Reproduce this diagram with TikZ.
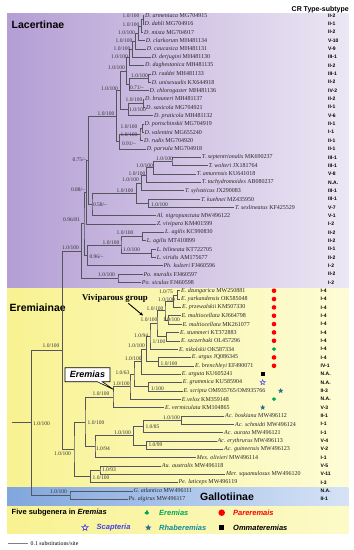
\documentclass[tikz,border=0pt]{standalone}
\usepackage{fontspec}
\setmainfont{Liberation Serif}
\setsansfont{Liberation Sans}
\usetikzlibrary{calc,shapes.geometric,shapes.callouts,arrows.meta}

\definecolor{lacL}{RGB}{180,158,212}
\definecolor{lacR}{RGB}{236,231,244}
\definecolor{ereL}{RGB}{248,242,145}
\definecolor{ereR}{RGB}{253,252,214}
\definecolor{galL}{RGB}{128,166,222}
\definecolor{galR}{RGB}{214,227,246}
\definecolor{brc}{RGB}{85,85,95}
\definecolor{esgreen}{RGB}{0,168,80}
\definecolor{scap}{RGB}{64,64,235}
\definecolor{rhabt}{RGB}{20,140,150}
\definecolor{rhabs}{RGB}{38,108,150}

\tikzset{
  branch/.style={draw=brc,line width=0.5pt},
  taxon/.style={anchor=west,inner sep=0.8pt,font=\fontsize{6}{7}\selectfont,text=black!85},
  sup/.style={inner sep=0pt,font=\fontsize{5.5}{6}\selectfont,text=black!80},
  crtype/.style={anchor=west,inner sep=0pt,font=\sffamily\bfseries\fontsize{5}{6}\selectfont},
  pdot/.style={circle,fill=red,minimum size=4.6pt,inner sep=0pt},
  osq/.style={rectangle,fill=black,minimum size=4pt,inner sep=0pt},
  sstar/.style={star,star points=5,star point ratio=2.3,minimum size=5.5pt,inner sep=0pt},
  plusmark/.pic={\draw[esgreen,line width=2pt,line cap=round] (-1.1,0)--(1.1,0) (0,-1.1)--(0,1.1);
    \fill[esgreen] (0,0) circle (1.3);},
  title/.style={anchor=west,inner sep=0pt,font=\sffamily\bfseries\fontsize{10.5}{12}\selectfont},
  leg/.style={anchor=west,inner sep=0pt,font=\sffamily\bfseries\itshape\fontsize{7.5}{9}\selectfont}
}

% nodo interno: nombre, x, hijo 1, hijo 2
\newcommand\clade[4]{%
  \path let \p1=(#3), \p2=(#4) in coordinate (#1) at ({#2pt},{0.5*\y1+0.5*\y2});
  \draw[branch] (#3) -| (#1) |- (#4);}

\begin{document}
\begin{tikzpicture}[x=1pt,y=-1pt]
\useasboundingbox (0,0) rectangle (354,550);

% Fondos
\shade[left color=lacL,right color=lacR] (7,13.3) rectangle (348.3,288);
\shade[left color=ereL,right color=ereR] (7,288) rectangle (348.3,487.3);
\shade[left color=galL,right color=galR] (7,487.3) rectangle (348.3,506);
\shade[left color=ereL,right color=ereR!80!ereL] (7,506) rectangle (348.3,533);

\node[title] (tLac) at (11.5,25) {Lacertinae};
\node[title] (tEre) at (9.5,307.3) {Eremiainae};
\node[title] (tGal) at (200,496.7) {Gallotiinae};
\node[anchor=west,inner sep=0pt,font=\sffamily\bfseries\fontsize{7}{8}\selectfont] (tCR) at (291.5,9.5) {CR Type-subtype};

% Taxones
\foreach \n/\x/\spc/\acc/\ty [count=\i from 0] in {
  arm/144.2/D. armeniaca/MG704915/II-2,
  dah/143.5/D. dahli/MG704916/II-1,
  mix/143.2/D. mixta/MG704917/II-2,
  cla/144.9/D. clarkorum/MH481134/V-10,
  cau/145.9/D. caucasica/MH481131/V-9,
  der/150.9/D. derjugini/MH481130/III-1,
  dag/144.2/D. daghestanica/MH481135/II-2,
  rad/150.9/D. raddei/MH481133/III-1,
  uni/150.9/D. unisexualis/KX644918/II-2,
  chl/148.5/D. chlorogaster/MH481136/IV-2,
  bra/144.2/D. brauneri/MH481137/II-2,
  sax/145.2/D. saxicola/MG704921/II-1,
  pra/153.2/D. praticola/MH481132/V-6,
  por/143.5/D. portschinskii/MG704919/II-1,
  val/143.5/D. valentini/MG655240/I-1,
  rud/143.2/D. rudis/MG704920/II-1,
  par/145.9/D. parvula/MG704918/II-1,
  sep/200.9/T. septentrionalis/MK690237/III-1,
  wol/207.5/T. wolteri/JX181764/III-1,
  amu/195.9/T. amurensis/KU641018/V-8,
  tac/200.9/T. tachydromoides/AB080237/N.A.,
  syl/184.2/T. sylvaticus/JX290083/III-1,
  kue/200.2/T. kuehnei/MZ435950/III-1,
  sex/234.2/T. sexlineatus/KF425529/V-7,
  nig/155.9/Al. nigropunctata/MW496122/V-1,
  viv/155.9/Z. vivipara/KM401599/I-2,
  agk/164.2/L. agilis/KC990830/II-2,
  agm/145.9/L. agilis/MT410899/II-2,
  bil/155.9/L. bilineata/KT722705/II-1,
  vir/155.9/L. viridis/AM175677/II-2,
  kul/162.5/Ph. kulzeri/FJ460596/I-2,
  mur/142.5/Po. muralis/FJ460597/II-2,
  sic/140.9/Po. siculus/FJ460598/I-2}{
  \node[taxon] (\n) at (\x,15.5+8.34*\i) {\textit{\spc} \acc};
  \node[crtype] (t\n) at (328,15.5+8.34*\i) {\ty};
}
\foreach \n/\x/\spc/\acc/\ty [count=\i from 33] in {
  dzu/180.2/E. dzungarica/MW250881/I-4,
  yar/180.2/E. yarkandensis/OK585048/I-4,
  prz/181.2/E. przewalskii/KM507330/I-4,
  mkj/180.5/E. multiocellata/KJ664798/I-4,
  mmk/181.5/E. multiocellata/MK261077/I-4,
  stu/179.2/E. stummeri/KT372883/I-4,
  szc/180/E. szczerbaki/OL457296/I-4,
  nik/178/E. nikolskii/OK587334/I-4,
  arg/190.9/E. argus/JQ086345/I-4,
  bre/194.2/E. brenchleyi/EF490071/IV-1,
  agt/180.9/E. arguta/KU605241/N.A.,
  gra/181.9/E. grammica/KU585904/N.A.,
  scr/182.5/E. scripta/{OM935765/OM935766}/II-3,
  vel/180.9/E.velox/KM359148/N.A.,
  ver/164.2/E. vermiculata/KM104865/V-3,
  bos/224.2/Ac. boskiana/MW496112/II-1,
  sch/234.2/Ac. schmidti/MW496124/I-1,
  aur/223.2/Ac. aurata/MW496121/I-1,
  ery/216.5/Ac. erythrurus/MW496113/V-4,
  gui/223.2/Ac. guineensis/MW496123/V-2,
  oli/195.9/Mes. olivieri/MW496114/I-1,
  aus/160.9/Au. australis/MW496118/V-5,
  squ/225.2/Mer. squamulosus/MW496120/V-11,
  lat/177.5/Pe. laticeps/MW496119/I-3,
  atl/132.5/G. atlantica/MW496111/N.A.,
  psa/127.5/Ps. algirus/MW496117/II-1}{
  \node[taxon] (\n) at (\x,15.5+8.34*\i) {\textit{\spc} \acc};
  \node[crtype] (t\n) at (320.5,15.5+8.34*\i) {\ty};
}

% Ramas: Lacertinae
\clade{n1}{143.3}{arm}{dah}
\clade{n2}{141.7}{n1}{mix}
\clade{n3}{138.5}{n2}{cla}
\clade{n4}{135.5}{n3}{cau}
\clade{n5}{132.5}{n4}{der}
\clade{n6}{129.5}{n5}{dag}
\clade{nRU}{148.3}{rad}{uni}
\clade{nRUC}{129.3}{nRU}{chl}
\clade{nDa}{126.7}{n6}{nRUC}
\clade{nBS}{143.3}{bra}{sax}
\clade{nBSP}{128.3}{nBS}{pra}
\clade{nDb}{120.5}{nDa}{nBSP}
\clade{nPV}{142.5}{por}{val}
\clade{nPVR}{140}{nPV}{rud}
\clade{nDc}{119.3}{nPVR}{par}
\clade{nD}{116.5}{nDb}{nDc}
\clade{nSW}{172}{sep}{wol}
\clade{nSWA}{153.3}{nSW}{amu}
\clade{nSWAT}{146.7}{nSWA}{tac}
\clade{nSWATS}{141.7}{nSWAT}{syl}
\clade{nKS}{148.3}{kue}{sex}
\clade{nT}{136.7}{nSWATS}{nKS}
\clade{nTA}{92}{nT}{nig}
\clade{nDT}{88.5}{nD}{nTA}
\clade{nDTZ}{86.5}{nDT}{viv}
\clade{nAG}{142.7}{agk}{agm}
\clade{nBV}{151.7}{bil}{vir}
\clade{nL}{121}{nAG}{nBV}
\clade{nLP}{87.5}{nL}{kul}
\clade{nLZ}{84}{nDTZ}{nLP}
\clade{nPo}{118}{mur}{sic}
\clade{nLac}{81.7}{nLZ}{nPo}

% Ramas: Eremiainae y Gallotiinae
\clade{nDY}{177.3}{dzu}{yar}
\clade{nDYP}{173.3}{nDY}{prz}
\clade{nMM}{168}{mkj}{mmk}
\clade{nDM}{165}{nDYP}{nMM}
\clade{nSS}{166.7}{stu}{szc}
\clade{nViv}{157}{nDM}{nSS}
\clade{nVN}{150}{nViv}{nik}
\clade{nAB}{158.3}{arg}{bre}
\clade{nX}{146.5}{nVN}{nAB}
\clade{nC}{141.7}{nX}{agt}
\clade{nGS}{148.3}{gra}{scr}
\clade{nB}{134}{nC}{nGS}
\clade{nA}{130}{nB}{vel}
\clade{nErm}{113}{nA}{ver}
\clade{nBoS}{181.7}{bos}{sch}
\clade{nAc1}{143.3}{nBoS}{aur}
\clade{nEG}{146.7}{ery}{gui}
\clade{nAc}{133.3}{nAc1}{nEG}
\clade{nAcM}{95}{nAc}{oli}
\clade{nU}{85}{nErm}{nAcM}
\clade{nAM}{100}{aus}{squ}
\clade{nLo}{90.7}{nAM}{lat}
\clade{nEre}{74}{nU}{nLo}
\clade{nLE}{62.7}{nLac}{nEre}
\clade{nGal}{70}{atl}{psa}
\clade{nRoot}{31.7}{nLE}{nGal}
\path (nRoot) ++(-19.7,0) coordinate (r0);
\draw[branch] (r0) -- (nRoot);

% Soportes
\foreach \x/\y [count=\k] in {131/15.3, 131/24.3, 126.5/32.7, 124/40.7, 122/49,
  119.5/56.7, 116.5/67.7, 139.5/76, 109.5/89, 134/100, 137.5/110, 106/113.3,
  129/126.7, 129/134.3, 164.5/158.7, 144.5/166, 137/173.3, 130.5/180, 125/191,
  159.5/205, 125/232.7, 111/242.7, 131.5/249.3, 106.5/275, 70.5/248, 51/346,
  41.5/423.3, 58.5/491.7, 62.5/453.3, 166.5/300, 155/308.3, 171.5/319.5,
  149/320, 136.5/345.7, 133.3/359, 169/363.3, 121.3/383.3, 101/393.5,
  171.5/417.7, 96/422.3, 122.5/432.3, 101/477.3}
  \node[sup] (bs\k) at (\x,\y) {1.0/100};
\node[sup] (sRUC) at (137,87.3) {0.71/--};
\node[sup] (sDc) at (129,143.8) {0.91/--};
\node[sup] (sTA) at (100,205) {0.58/--};
\node[sup] (sDT) at (79.5,159.3) {0.75/--};
\node[sup] (sDTZ) at (78,190) {0.88/--};
\node[sup] (sLZ) at (71.5,220) {0.96/81};
\node[sup] (sLP) at (96.5,256.8) {0.96/--};
\node[sup] (sDY) at (166,291.7) {1.0/75};
\node[sup] (sVN) at (141.2,335.5) {1.0/94};
\node[sup] (sSS) at (159,341.2) {1/100};
\node[sup] (sB) at (122.5,372.5) {1.0/63};
\node[sup] (sGS) at (157.5,388.3) {1/100};
\node[sup] (sAc1) at (152.5,426.7) {1.0/85};
\node[sup] (sEG) at (155.5,445) {1.0/99};
\node[sup] (sAcM) at (103,449) {1.0/94};
\node[sup] (sAM) at (109,470) {1.0/93};

% Grupos
\node[font=\bfseries\fontsize{8.8}{10}\selectfont,inner sep=0pt] (vgT) at (115,298.3) {Viviparous group};
\coordinate (vgTail) at (128.3,303.3);
\coordinate (vgHead) at (143,315.5);
\draw[-{Stealth[length=3.5pt,width=3.2pt]},line width=0.9pt] (vgTail) -- (vgHead);
\node[rectangle callout,draw=black,line width=0.6pt,fill=white,minimum width=45pt,
  minimum height=14pt,inner sep=0pt,callout absolute pointer={(113.5,389.5)},
  callout pointer width=5pt,font=\sffamily\bfseries\itshape\fontsize{9}{10}\selectfont]
  (erCall) at (87.5,374.7) {Eremias};

% Subgeneros
\coordinate (sx) at (274,0);
\foreach \n in {dzu,yar,prz,mkj,mmk,stu,szc,arg,bre}
  \node[pdot] (d\n) at (sx |- \n) {};
\pic at (sx |- nik) {plusmark};
\pic at (sx |- vel) {plusmark};
\coordinate (sy) at (262.7,0);
\node[osq] (qagt) at (sy |- agt) {};
\node[sstar,draw=scap,line width=0.5pt] (sgra) at (sy |- gra) {};
\node[sstar,fill=rhabs] (sver) at (sy |- ver) {};
\coordinate (sz) at (280.7,0);
\node[sstar,fill=rhabs] (sscr) at (sz |- scr) {};

% Leyenda
\node[anchor=west,inner sep=0pt,font=\sffamily\bfseries\fontsize{7.5}{9}\selectfont]
  (legT) at (11.5,512.7) {Five subgenera in \textit{Eremias}};
\pic[scale=1.3] at (146.7,512.5) {plusmark};
\node[leg,text=esgreen] (legE) at (159,512.7) {Eremias};
\node[pdot,minimum size=6.5pt] (legP0) at (221.7,512.7) {};
\node[leg,text=red] (legP) at (233,512.7) {Pareremais};
\node[sstar,draw=scap,line width=0.6pt,minimum size=6.5pt] (legS0) at (85,527.7) {};
\node[leg,text=scap] (legS) at (96.5,527.7) {Scapteria};
\node[sstar,fill=rhabs,minimum size=6.5pt] (legR0) at (148.3,527.7) {};
\node[leg,text=rhabt] (legR) at (159,527.7) {Rhaberemias};
\node[osq,minimum size=5pt] (legO0) at (221.7,527.7) {};
\node[leg] (legO) at (233,527.7) {Ommateremias};

% Escala
\coordinate (sb0) at (8.3,543.3);
\coordinate (sb1) at (28.3,543.3);
\draw[gray,line width=0.6pt] (sb0) -- (sb1);
\node[anchor=west,inner sep=0pt,font=\fontsize{5.8}{7}\selectfont] (sbT) at (30.5,543.3) {0.1 substitutions/site};

\end{tikzpicture}
\end{document}
